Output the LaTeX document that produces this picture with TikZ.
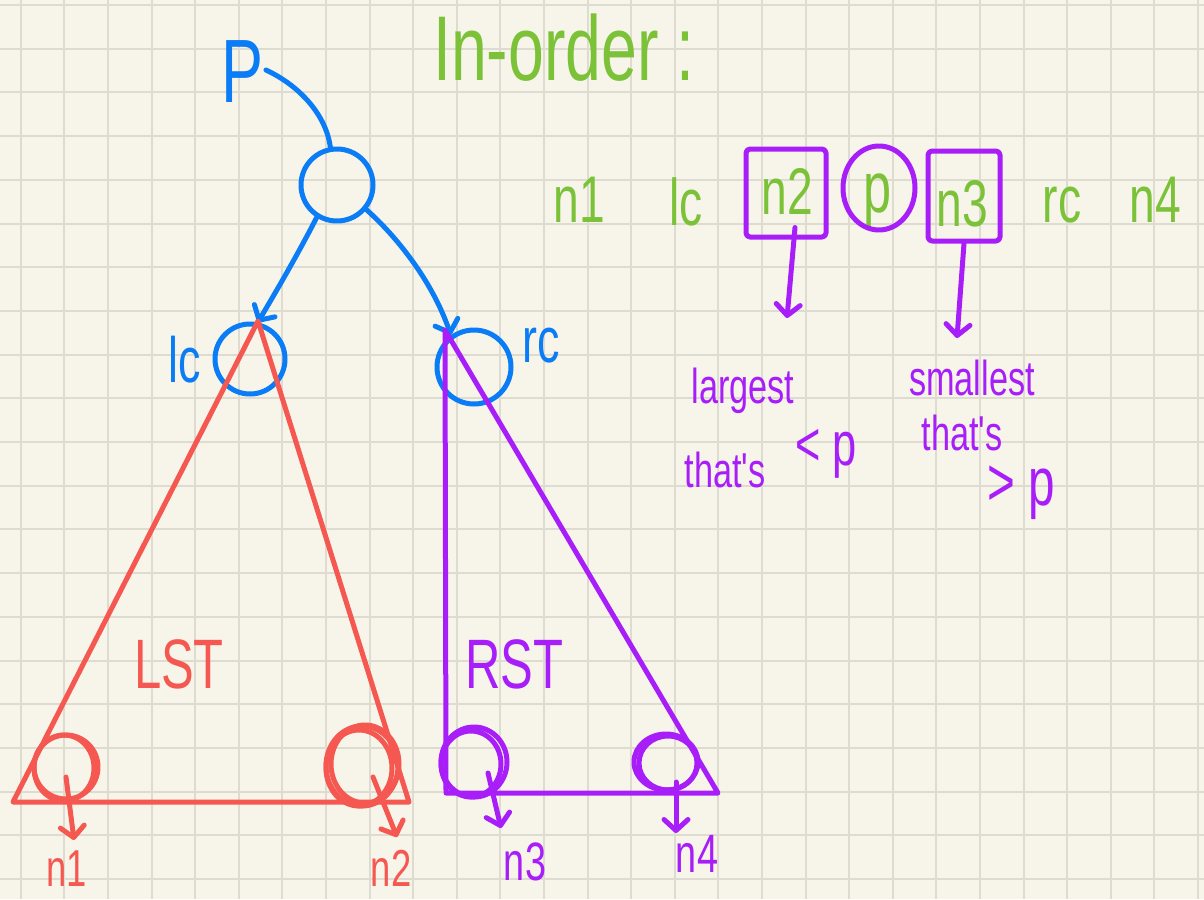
\documentclass[tikz,border=0pt]{standalone}
\usepackage{fontspec}
\newfontfamily\hand[FakeStretch=0.7]{Liberation Sans}
\usetikzlibrary{arrows.meta,shapes.geometric,calc}
\definecolor{paper}{RGB}{247,245,234}
\definecolor{gridline}{RGB}{222,220,208}
\definecolor{inkblue}{RGB}{10,124,245}
\definecolor{inkred}{RGB}{245,88,80}
\definecolor{inkpurple}{RGB}{168,30,248}
\definecolor{inkgreen}{RGB}{124,194,56}

\begin{document}
\begin{tikzpicture}[x=1pt,y=-1pt,
  ink/.style={line width=5pt,line cap=round,line join=round},
  barb/.style={-{Straight Barb[length=11pt,width=24pt,round]}},
  write/.style={font={\hand\fontsize{#1}{#1}\selectfont},inner sep=0pt,anchor=base},
  ring/.style={ellipse,draw,ink,inner sep=0pt},
  boxed/.style={rectangle,draw,ink,rounded corners=4pt,inner sep=0pt}]

% paper and grid
\useasboundingbox (0,0) rectangle (1204,899);
\fill[paper] (0,0) rectangle (1204,899);
\foreach \k in {0,...,27} \draw[gridline,line width=2pt] ({20.7+43.6*\k},0) -- ({20.7+43.6*\k},899);
\foreach \k in {0,...,20} \draw[gridline,line width=2pt] (0,{5+43.7*\k}) -- (1204,{5+43.7*\k});

% ---------------- tree ----------------
\node[write=90,text=inkblue] (plab) at (243,102) {P};
\coordinate (ptail) at (266,70);
\node[ring,draw=inkblue,minimum width=72,minimum height=72] (root) at (337,185) {};
\node[ring,draw=inkblue,minimum width=70,minimum height=70] (lc) at (250,359) {};
\node[ring,draw=inkblue,minimum width=74,minimum height=74] (rc) at (474,367) {};
\node[write=64,text=inkblue] (lclab) at (185,382) {lc};
\node[write=64,text=inkblue] (rclab) at (541,362) {rc};

\draw[ink,inkblue] (ptail) .. controls (300,86) and (326,115) .. (root.100);
\draw[ink,inkblue,barb] (root.238) .. controls (300,250) and (280,285) .. (lc.78);
\draw[ink,inkblue,barb] (root.-40) .. controls (395,235) and (432,280) .. (rc.126);

% left subtree
\coordinate (lt) at (258,321);
\coordinate (ll) at (13,802);
\coordinate (lr) at (409,802);
\draw[ink,inkred] (lt) -- (ll) -- (lr) -- cycle;
\node[write=70,text=inkred] (lst) at (179,688) {LST};

\node[ring,draw=inkred,minimum width=64,minimum height=64] (c1) at (66,767) {};
\draw[ink,inkred] (64,768) ellipse [x radius=30,y radius=33];
\node[ring,draw=inkred,minimum width=72,minimum height=80] (c2) at (362,766) {};
\draw[ink,inkred] (359,768) ellipse [x radius=33,y radius=38];
\draw[ink,inkred] (365,764) ellipse [x radius=34,y radius=39];

\coordinate (t1) at (74,840);
\coordinate (t2) at (397,837);
\draw[ink,inkred,barb] ($(c1.center)+(0,10)$) -- (t1);
\draw[ink,inkred,barb] ($(c2.center)+(11,11)$) -- (t2);
\node[write=52,text=inkred] (n1lab) at (67,886) {n1};
\node[write=52,text=inkred] (n2lab) at (391,886) {n2};

% right subtree
\coordinate (rt) at (445,330);
\coordinate (rl) at (446,793);
\coordinate (rr) at (718,793);
\draw[ink,inkpurple] (rt) -- (rl) -- (rr) -- cycle;
\node[write=70,text=inkpurple] (rst) at (514,688) {RST};

\node[ring,draw=inkpurple,minimum width=66,minimum height=70] (c3) at (474,762) {};
\draw[ink,inkpurple] (471,764) ellipse [x radius=30,y radius=33];
\node[ring,draw=inkpurple,minimum width=64,minimum height=56] (c4) at (666,762) {};
\draw[ink,inkpurple] (668,763) ellipse [x radius=29,y radius=27];

\coordinate (t3) at (501,828);
\coordinate (t4) at (676,833);
\draw[ink,inkpurple,barb] ($(c3.center)+(14,11)$) -- (t3);
\draw[ink,inkpurple,barb] ($(c4.center)+(10,20)$) -- (t4);
\node[write=54,text=inkpurple] (n3lab) at (525,880) {n3};
\node[write=54,text=inkpurple] (n4lab) at (697,872) {n4};

% ---------------- in-order listing ----------------
\node[write=92,text=inkgreen,anchor=base west] (title) at (433,80) {In-order :};

\node[write=66,text=inkgreen] (s1) at (579,222) {n1};
\node[write=66,text=inkgreen] (s2) at (686,225) {lc};
\node[write=66,text=inkgreen] (s3) at (787,214) {n2};
\node[write=72,text=inkgreen] (s4) at (878,212) {p};
\node[write=66,text=inkgreen] (s5) at (962,226) {n3};
\node[write=66,text=inkgreen] (s6) at (1062,222) {rc};
\node[write=66,text=inkgreen] (s7) at (1155,222) {n4};

\node[boxed,draw=inkpurple,minimum width=80,minimum height=88] (boxn2) at (786,193) {};
\node[ring,draw=inkpurple,minimum width=72,minimum height=84] (pcirc) at (879,188) {};
\node[boxed,draw=inkpurple,minimum width=72,minimum height=90] (boxn3) at (964,196) {};

\coordinate (a2) at (787,318);
\coordinate (a3) at (957,338);
\draw[ink,inkpurple,barb] ($(boxn2.south)+(9,-12)$) -- (a2);
\draw[ink,inkpurple,barb] (boxn3.south) -- (a3);

\node[write=49,text=inkpurple] (big1) at (743,403) {largest};
\node[write=49,text=inkpurple] (big2) at (725,487) {that's};
\node[write=62,text=inkpurple] (big3) at (826,465) {< p};

\node[write=49,text=inkpurple] (sm1) at (972,395) {smallest};
\node[write=49,text=inkpurple] (sm2) at (962,450) {that's};
\node[write=68,text=inkpurple] (sm3) at (1021,505) {> p};
\end{tikzpicture}
\end{document}
